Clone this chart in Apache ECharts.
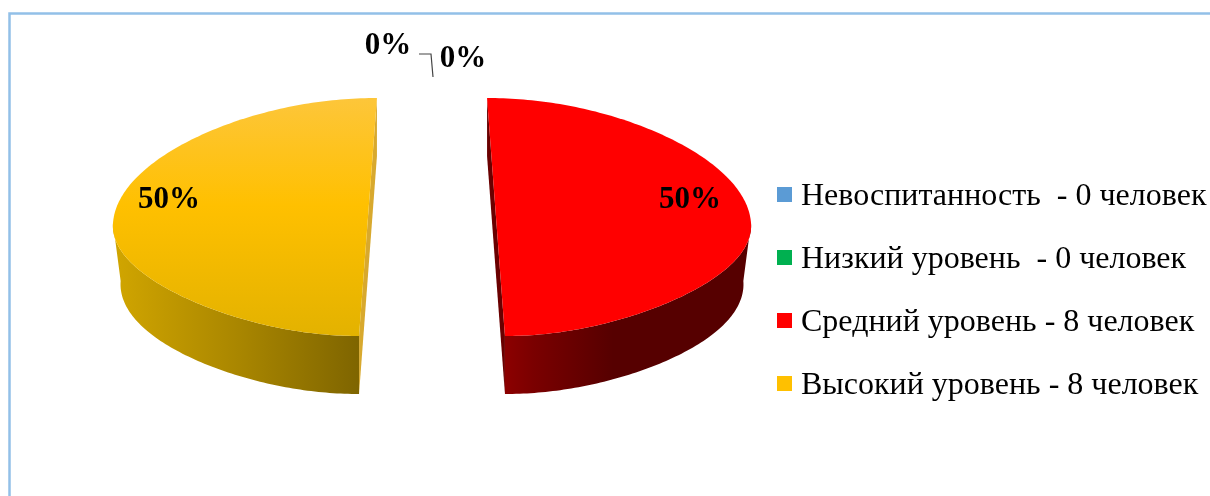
<!DOCTYPE html>
<html>
<head>
<meta charset="utf-8">
<style>html,body{margin:0;padding:0;background:#fff}#c{width:1210px;height:496px}</style>
<script src="https://cdn.jsdelivr.net/npm/echarts@6/dist/echarts.min.js"></script>
</head>
<body>
<div id="c"></div>
<script>
const categories = ['Невоспитанность  - 0 человек', 'Низкий уровень  - 0 человек', 'Средний уровень - 8 человек', 'Высокий уровень - 8 человек'];
const values = [0, 0, 8, 8];
const colors = ['#5b9bd5', '#00b050', '#ff0000', '#ffc000'];

// styling and layout (not data)
const labelCenters = [[388, 46], [463, 59], [690, 200], [169, 200]];
const topFills = [null, null,
  [[0, '#ff0000'], [1, '#ff0000']],
  [[0, '#fdc63a'], [0.45, '#ffc000'], [1, '#e3b200']]];
const sideFills = [null, null,
  { x0: 505, x1: 745, stops: [[0, '#8c0000'], [0.12, '#7a0000'], [0.45, '#560000'], [1, '#560000']] },
  { x0: 120, x1: 358, stops: [[0, '#cfa400'], [0.5, '#a98600'], [1, '#7f6500']] }];
const cutFills = [null, null, '#6a0000', '#d8a92e'];

const geo = { cx: 432, cy: 223, R: 255, RyBack: 125, RyFront: 113, ex: 64, kEx: 0.14, pinchBack: 0.09, pinchFront: 0.17, depth: 58, bottomScale: 0.97 };
const total = values.reduce((a, b) => a + b, 0);

function project(theta, mid, dy, rScale) {
  const v = Math.cos(theta);
  const offset = geo.ex * Math.sin(mid) * (1 - geo.kEx * v);
  const pinch = 1 - (v >= 0 ? geo.pinchBack : geo.pinchFront) * v * v;
  const rim = geo.R * rScale * Math.sin(theta) * pinch;
  return [geo.cx + offset + rim, geo.cy - (v >= 0 ? geo.RyBack : geo.RyFront) * v + dy];
}

function renderSlice(index) {
  return function (params, api) {
    const value = api.value(0);
    const children = [];
    const before = values.slice(0, index).reduce((a, b) => a + b, 0);
    const a0 = before / total * Math.PI * 2;
    const a1 = (before + value) / total * Math.PI * 2;
    const mid = (a0 + a1) / 2;
    if (value > 0) {
      const inner0 = project(a0, mid, 0, 1), inner1 = project(a1, mid, 0, 1);
      const cut = [inner0, inner1, project(a1, mid, geo.depth, 1), project(a0, mid, geo.depth, 1)];
      children.push({ type: 'polygon', shape: { points: cut }, style: { fill: cutFills[index] } });
      const topArc = [], frontTop = [], frontBot = [];
      const n = 180;
      for (let i = 0; i <= n; i++) {
        const t = a0 + (a1 - a0) * i / n;
        const sn = Math.abs(Math.sin(t));
        topArc.push(project(t, mid, 0, 1));
        if (Math.cos(t) <= 0.001) {
          const rs = 1 - (1 - geo.bottomScale) * Math.pow(sn, 4);
          frontTop.push(project(t, mid, 0, 1));
          frontBot.push(project(t, mid, geo.depth, rs));
        }
      }
      const s = sideFills[index];
      children.push({
        type: 'polygon',
        shape: { points: frontTop.concat(frontBot.slice().reverse()) },
        style: { fill: new echarts.graphic.LinearGradient(s.x0, 0, s.x1, 0, s.stops.map(p => ({ offset: p[0], color: p[1] })), true) }
      });
      children.push({
        type: 'polygon',
        shape: { points: topArc },
        style: { fill: new echarts.graphic.LinearGradient(0, 98, 0, 336, topFills[index].map(p => ({ offset: p[0], color: p[1] })), true) }
      });
    }
    children.push({
      type: 'text',
      z2: 10,
      style: {
        x: labelCenters[index][0], y: labelCenters[index][1],
        text: Math.round(value / total * 100) + '%',
        fill: '#000',
        font: 'bold 31px "Liberation Serif", serif',
        textAlign: 'center', textVerticalAlign: 'middle'
      }
    });
    return { type: 'group', children };
  };
}

const chart = echarts.init(document.getElementById('c'), null, { renderer: 'canvas' });
chart.setOption({
  animation: false,
  backgroundColor: '#ffffff',
  legend: {
    orient: 'vertical',
    left: 772,
    top: 176,
    itemWidth: 15,
    itemHeight: 15,
    itemGap: 31,
    icon: 'rect',
    selectedMode: false,
    data: categories,
    formatter: name => '{t|' + name + '}',
    textStyle: {
      color: '#000', fontFamily: '"Liberation Serif", serif', fontSize: 32,
      rich: { t: { color: '#000', fontFamily: '"Liberation Serif", serif', fontSize: 32, padding: [5, 0, 0, 4] } }
    }
  },
  graphic: [
    { type: 'polyline', shape: { points: [[9.5, 496], [9.5, 13.5], [1210, 13.5]] }, style: { stroke: '#92c0e8', lineWidth: 2.5, fill: null }, z: 0 },
    { type: 'polyline', shape: { points: [[419, 54], [431, 54], [433, 77]] }, style: { stroke: '#444444', lineWidth: 1.2, fill: null }, z: 5 }
  ],
  series: categories.map((name, i) => ({
    type: 'custom',
    name,
    coordinateSystem: 'none',
    silent: true,
    itemStyle: { color: colors[i] },
    data: [[values[i]]],
    renderItem: renderSlice(i),
    z: i === 3 ? 3 : 2
  }))
});
</script>
</body>
</html>
